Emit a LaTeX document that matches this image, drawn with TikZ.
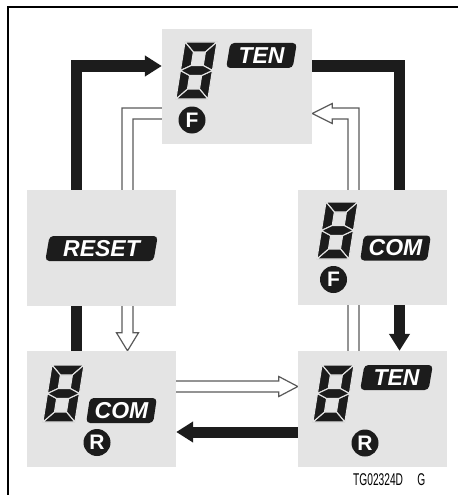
\documentclass[tikz,border=0pt]{standalone}
\usepackage{fontspec}
\setmainfont{Liberation Sans}
\usetikzlibrary{arrows.meta,shapes.geometric,backgrounds,calc}
\definecolor{boxgray}{HTML}{E4E4E4}
\definecolor{ink}{HTML}{1C1C1C}
\definecolor{hollowline}{HTML}{5A5A5A}
\tikzset{
 panel/.style={fill=boxgray, draw=none, minimum width=149pt, minimum height=116pt, inner sep=0pt},
 thickarrow/.style={draw=ink, line width=11pt, line join=miter, -{Triangle[length=17pt,width=20pt]}},
 hollowarrow/.style={fill=white, draw=hollowline, line width=1.2pt, line join=miter},
 badge/.style={trapezium, trapezium left angle=79, trapezium right angle=101, trapezium stretches=true,
   fill=ink, rounded corners=4pt, text=white, font=\fontsize{23}{23}\selectfont\bfseries\itshape,
   minimum height=25pt, inner sep=0pt},
 modecircle/.style={circle, fill=ink, text=white, font=\fontsize{21}{21}\selectfont\bfseries,
   minimum size=27pt, inner sep=0pt},
 seg/.style={fill=ink, draw=boxgray, line width=1.1pt, line join=round},
 lcd/.pic={
  \begin{scope}[xslant=0.16]
   \path[seg] (0,0) -- (32,0) -- (22,10) -- (10,10) -- cycle;
   \path[seg] (32,0) -- (32,28.5) -- (22,23.5) -- (22,10) -- cycle;
   \path[seg] (32,28.5) -- (32,57) -- (22,47) -- (22,33.5) -- cycle;
   \path[seg] (0,57) -- (32,57) -- (22,47) -- (10,47) -- cycle;
   \path[seg] (0,28.5) -- (0,57) -- (10,47) -- (10,33.5) -- cycle;
   \path[seg] (0,0) -- (0,28.5) -- (10,23.5) -- (10,10) -- cycle;
   \path[seg] (0,28.5) -- (10,23.5) -- (22,23.5) -- (32,28.5) -- (22,33.5) -- (10,33.5) -- cycle;
  \end{scope}
 }
}
\begin{document}
\begin{tikzpicture}[x=1pt,y=-1pt]
\useasboundingbox (0,0) rectangle (458,495);
% frame
\draw[line width=2pt] (8,495) -- (8,7) -- (458,7);
% panels
\node[panel, minimum width=150pt, minimum height=115pt] (top) at (237,86.5) {};
\node[panel] (reset) at (101.5,248) {};
\node[panel, minimum height=115pt] (rf) at (372.5,247.5) {};
\node[panel] (bl) at (101.5,409) {};
\node[panel] (br) at (372.5,409) {};
% connectors behind panels
\begin{pgfonlayer}{background}
 \draw[thickarrow] ([xshift=-25pt]bl.north) |- ([yshift=20.5pt]top.west);
 \draw[thickarrow] ([yshift=20.5pt]top.east) -| ([xshift=27pt]br.north);
 \draw[thickarrow] ([yshift=-23pt]br.west) -- ([yshift=-23pt]bl.east);
 % hollow: top -> bottom-left
 \filldraw[hollowarrow] ([yshift=-21.5pt]top.west) -| ([shift={(20.5,-18)}]bl.north)
   -- ++(-5.5,0) -- ([xshift=26pt]bl.north) -- ([shift={(37,-18)}]bl.north)
   -- ++(-5.5,0) |- ([yshift=-32.5pt]top.west);
 % hollow: bottom-right -> top
 \filldraw[hollowarrow] ([xshift=-24.5pt]br.north) |- ([shift={(20,32.5)}]top.east)
   -- ++(0,4.5) -- ([yshift=-27pt]top.east) -- ([shift={(20,17)}]top.east)
   -- ++(0,4.5) -| ([xshift=-13.5pt]br.north);
 % hollow: bottom-left -> bottom-right
 \filldraw[hollowarrow] ([yshift=28pt]bl.east) -- ([shift={(-19,-28)}]br.west)
   -- ++(0,-4.5) -- ([yshift=22.5pt]br.west) -- ([shift={(-19,-12.5)}]br.west)
   -- ++(0,-4.5) -- ([yshift=17pt]bl.east);
\end{pgfonlayer}
% digits
\pic at (185,42) {lcd};
\pic at (326,202) {lcd};
\pic at (52,365) {lcd};
\pic at (322,365) {lcd};
% badges
\node[badge, minimum width=71pt] (tenT) at (261.5,55.5) {TEN};
\node[badge, minimum width=71pt] (comF) at (395.5,248) {COM};
\node[badge, minimum width=71pt] (comR) at (121.5,410.5) {COM};
\node[badge, minimum width=73pt] (tenR) at (396.5,377.5) {TEN};
\node[badge, minimum width=113pt] (rst) at (101.5,248.5) {RESET};
% mode circles
\node[modecircle] (fT) at (192,120) {F};
\node[modecircle] (fR) at (333.5,279.5) {F};
\node[modecircle] (rL) at (97,442.5) {R};
\node[modecircle] (rR) at (365,443) {R};
% code
\node[anchor=west, inner sep=0pt, font=\fontsize{17}{17}\selectfont] (code) at (353,480)
  {\scalebox{0.6}[1]{TG02324D\hspace{24pt}G}};
\end{tikzpicture}
\end{document}
